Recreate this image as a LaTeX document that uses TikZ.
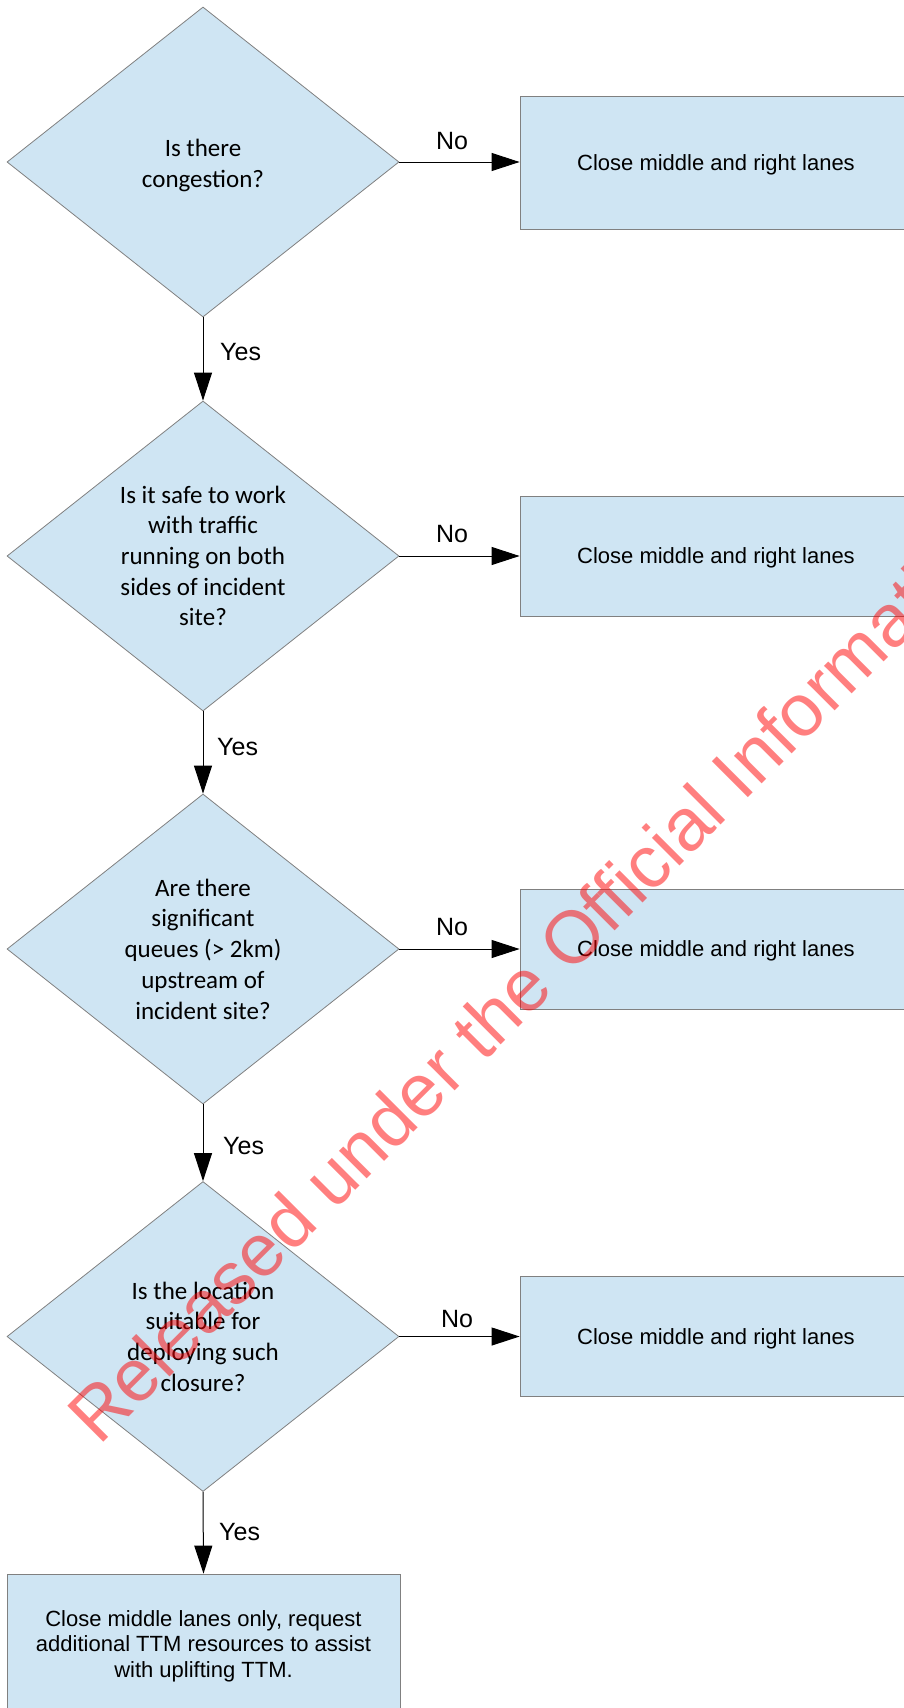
\documentclass[tikz,border=0pt]{standalone}
\usepackage{fontspec}
\setmainfont{Liberation Sans}
\newfontfamily\calib{Carlito}
\usetikzlibrary{shapes.geometric,arrows.meta}
\definecolor{boxblue}{RGB}{207,229,243}
\definecolor{edgegray}{RGB}{128,128,128}
\begin{document}
\begin{tikzpicture}[x=1pt,y=-1pt,
  decision/.style={diamond, draw=edgegray, fill=boxblue, line width=0.8pt,
    minimum width=392pt, minimum height=310pt, inner sep=0pt, aspect=1.26,
    align=center, font=\calib\fontsize{25}{30.7}\selectfont},
  action/.style={rectangle, draw=edgegray, fill=boxblue, line width=0.8pt,
    minimum width=392pt, minimum height=120pt, inner sep=0pt, text depth=0pt,
    align=center, font=\fontsize{22}{25.3}\selectfont},
  flow/.style={draw=black, line width=1pt, -{Triangle[length=28pt,width=18pt]}},
  answer/.style={font=\fontsize{25}{30}\selectfont, inner sep=0pt},
  stamp/.style={text=red, text opacity=0.5, inner sep=0pt,
    font=\fontsize{74}{80}\selectfont}
]
\useasboundingbox (0,0) rectangle (904,1708);
\clip (0,0) rectangle (904,1708);

% decisions down the left column
\node[decision, text height=50.4pt, text depth=0pt] (d1) at (203,162) {Is there\\congestion?};
\node[decision] (d2) at (203,556) {Is it safe to work\\with traffic\\running on both\\sides of incident\\site?};
\node[decision] (d3) at (203,949) {Are there\\significant\\queues (> 2km)\\upstream of\\incident site?};
\node[decision] (d4) at (203,1336.5) {Is the location\\suitable for\\deploying such\\closure?};

% outcomes
\node[action, minimum height=133pt] (b1) at (716,163) {Close middle and right lanes};
\node[action] (b2) at (716,556) {Close middle and right lanes};
\node[action] (b3) at (716,949) {Close middle and right lanes};
\node[action] (b4) at (716,1336.5) {Close middle and right lanes};
\node[action, minimum width=393pt, minimum height=140pt] (b5) at (203.5,1644)
  {Close middle lanes only, request\\additional TTM resources to assist\\with uplifting TTM.};

% connectors
\draw[flow] (d1.south) -- (d2.north);
\draw[flow] (d2.south) -- (d3.north);
\draw[flow] (d3.south) -- (d4.north);
\draw[flow] (d4.south) -- (b5.north);
\draw[flow] (d1.east) -- (d1.east -| b1.west);
\draw[flow] (d2.east) -- (b2.west);
\draw[flow] (d3.east) -- (b3.west);
\draw[flow] (d4.east) -- (b4.west);

% branch labels
\node[answer, anchor=west] (y1) at (220,352) {Yes};
\node[answer, anchor=west] (y2) at (217,747) {Yes};
\node[answer, anchor=west] (y3) at (223,1146) {Yes};
\node[answer, anchor=west] (y4) at (219,1532) {Yes};
\node[answer, anchor=base] (n1) at (452,149) {No};
\node[answer, anchor=base] (n2) at (452,542) {No};
\node[answer, anchor=base] (n3) at (452,935) {No};
\node[answer, anchor=base] (n4) at (457,1327) {No};

% release stamp across the sheet
\node[stamp, rotate=45, anchor=base west] (wm) at (99,1447)
  {Released under the Official Information Act};
\end{tikzpicture}
\end{document}
